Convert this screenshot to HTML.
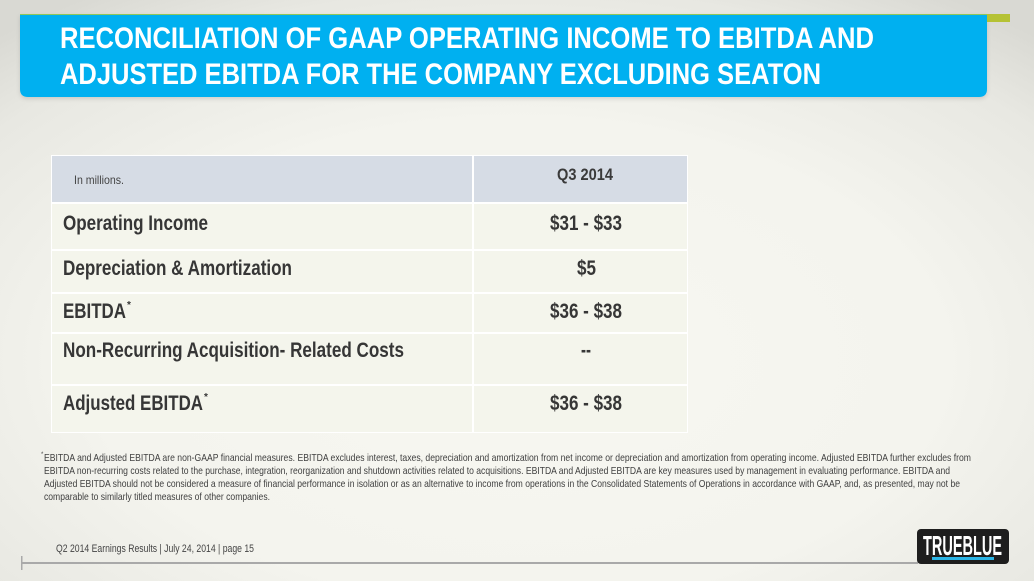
<!DOCTYPE html>
<html>
<head>
<meta charset="utf-8">
<style>
  html,body{margin:0;padding:0;}
  body{width:1034px;height:581px;overflow:hidden;}
  svg{display:block;}
  text{font-family:"Liberation Sans", Arial, sans-serif;}
</style>
</head>
<body>
<svg width="1034" height="581" viewBox="0 0 1034 581" xmlns="http://www.w3.org/2000/svg">
  <defs>
    <radialGradient id="bg" cx="50%" cy="62%" r="75%">
      <stop offset="0" stop-color="#F7F7F1"/>
      <stop offset="0.55" stop-color="#F4F4EE"/>
      <stop offset="0.85" stop-color="#E8E8E2"/>
      <stop offset="1" stop-color="#D9D9D3"/>
    </radialGradient>
    <filter id="sh" x="-5%" y="-20%" width="110%" height="150%">
      <feDropShadow dx="0" dy="2" stdDeviation="2" flood-color="#000" flood-opacity="0.12"/>
    </filter>
  </defs>

  <rect x="0" y="0" width="1034" height="581" fill="url(#bg)"/>

  <path d="M20 14 H987 V89 Q987 97 979 97 H28 Q20 97 20 89 Z" fill="#00B0F0" filter="url(#sh)"/>
  <rect x="20" y="14" width="967" height="1" fill="#8EC75A"/>
  <rect x="987" y="14" width="23" height="8" fill="#B5C234"/>

  <text x="60" y="48" font-size="29.5" font-weight="bold" fill="#FFFFFF" textLength="814" lengthAdjust="spacingAndGlyphs">RECONCILIATION OF GAAP OPERATING INCOME TO EBITDA AND</text>
  <text x="60" y="84" font-size="29.5" font-weight="bold" fill="#FFFFFF" textLength="761" lengthAdjust="spacingAndGlyphs">ADJUSTED EBITDA FOR THE COMPANY EXCLUDING SEATON</text>

  <rect x="51" y="155" width="637" height="278" fill="#FFFFFF"/>
  <rect x="52" y="156" width="420" height="46" fill="#D6DCE5"/>
  <rect x="474" y="156" width="213" height="46" fill="#D6DCE5"/>
  <rect x="52" y="204" width="420" height="45" fill="#F4F5EC"/>
  <rect x="474" y="204" width="213" height="45" fill="#F4F5EC"/>
  <rect x="52" y="251" width="420" height="41" fill="#F4F5EC"/>
  <rect x="474" y="251" width="213" height="41" fill="#F4F5EC"/>
  <rect x="52" y="294" width="420" height="38" fill="#F4F5EC"/>
  <rect x="474" y="294" width="213" height="38" fill="#F4F5EC"/>
  <rect x="52" y="334" width="420" height="50" fill="#F4F5EC"/>
  <rect x="474" y="334" width="213" height="50" fill="#F4F5EC"/>
  <rect x="52" y="386" width="420" height="46" fill="#F4F5EC"/>
  <rect x="474" y="386" width="213" height="46" fill="#F4F5EC"/>

  <text x="74" y="184" font-size="12" fill="#444444" textLength="50" lengthAdjust="spacingAndGlyphs">In millions.</text>
  <text x="557" y="180" font-size="17" font-weight="bold" fill="#3A3A3A" textLength="56" lengthAdjust="spacingAndGlyphs">Q3 2014</text>

  <g font-size="21" font-weight="bold" fill="#363636">
    <text x="63" y="230" textLength="145" lengthAdjust="spacingAndGlyphs">Operating Income</text>
    <text x="63" y="275" textLength="229" lengthAdjust="spacingAndGlyphs">Depreciation &amp; Amortization</text>
    <text x="63" y="318" textLength="63" lengthAdjust="spacingAndGlyphs">EBITDA</text>
    <text x="63" y="357" textLength="341" lengthAdjust="spacingAndGlyphs">Non-Recurring Acquisition- Related Costs</text>
    <text x="63" y="410" textLength="140" lengthAdjust="spacingAndGlyphs">Adjusted EBITDA</text>

    <text x="550" y="230" textLength="72" lengthAdjust="spacingAndGlyphs">$31 - $33</text>
    <text x="577" y="275" textLength="19" lengthAdjust="spacingAndGlyphs">$5</text>
    <text x="550" y="318" textLength="72" lengthAdjust="spacingAndGlyphs">$36 - $38</text>
    <text x="581" y="357" textLength="10" lengthAdjust="spacingAndGlyphs">--</text>
    <text x="550" y="410" textLength="72" lengthAdjust="spacingAndGlyphs">$36 - $38</text>
  </g>
  <text x="127" y="308" font-size="10" font-weight="bold" fill="#363636">*</text>
  <text x="204" y="400" font-size="10" font-weight="bold" fill="#363636">*</text>

  <g font-size="10.5" fill="#404040">
    <text x="41" y="456" font-size="6">*</text>
    <text x="44" y="461" textLength="927" lengthAdjust="spacingAndGlyphs">EBITDA and Adjusted EBITDA are non-GAAP financial measures. EBITDA excludes interest, taxes, depreciation and amortization from net income or depreciation and amortization from operating income. Adjusted EBITDA further excludes from</text>
    <text x="44" y="474" textLength="906" lengthAdjust="spacingAndGlyphs">EBITDA non-recurring costs related to the purchase, integration, reorganization and shutdown activities related to acquisitions. EBITDA and Adjusted EBITDA are key measures used by management in evaluating performance. EBITDA and</text>
    <text x="44" y="487" textLength="916" lengthAdjust="spacingAndGlyphs">Adjusted EBITDA should not be considered a measure of financial performance in isolation or as an alternative to income from operations in the Consolidated Statements of Operations in accordance with GAAP, and, as presented, may not be</text>
    <text x="44" y="500" textLength="226" lengthAdjust="spacingAndGlyphs">comparable to similarly titled measures of other companies.</text>
  </g>

  <text x="56" y="552" font-size="11" fill="#444444" textLength="198" lengthAdjust="spacingAndGlyphs">Q2 2014 Earnings Results | July 24, 2014  | page 15</text>
  <rect x="21" y="562" width="897" height="2" fill="#A9A9A9"/>
  <rect x="21" y="556" width="1.5" height="14" fill="#A9A9A9"/>

  <rect x="917" y="529" width="92" height="35" rx="4" fill="#1E1E1E"/>
  <text x="923" y="555" font-size="28" font-weight="bold" fill="#FFFFFF" textLength="79" lengthAdjust="spacingAndGlyphs">TRUEBLUE</text>
  <rect x="932" y="557" width="62" height="3" fill="#2BB5E6"/>
</svg>
</body>
</html>
